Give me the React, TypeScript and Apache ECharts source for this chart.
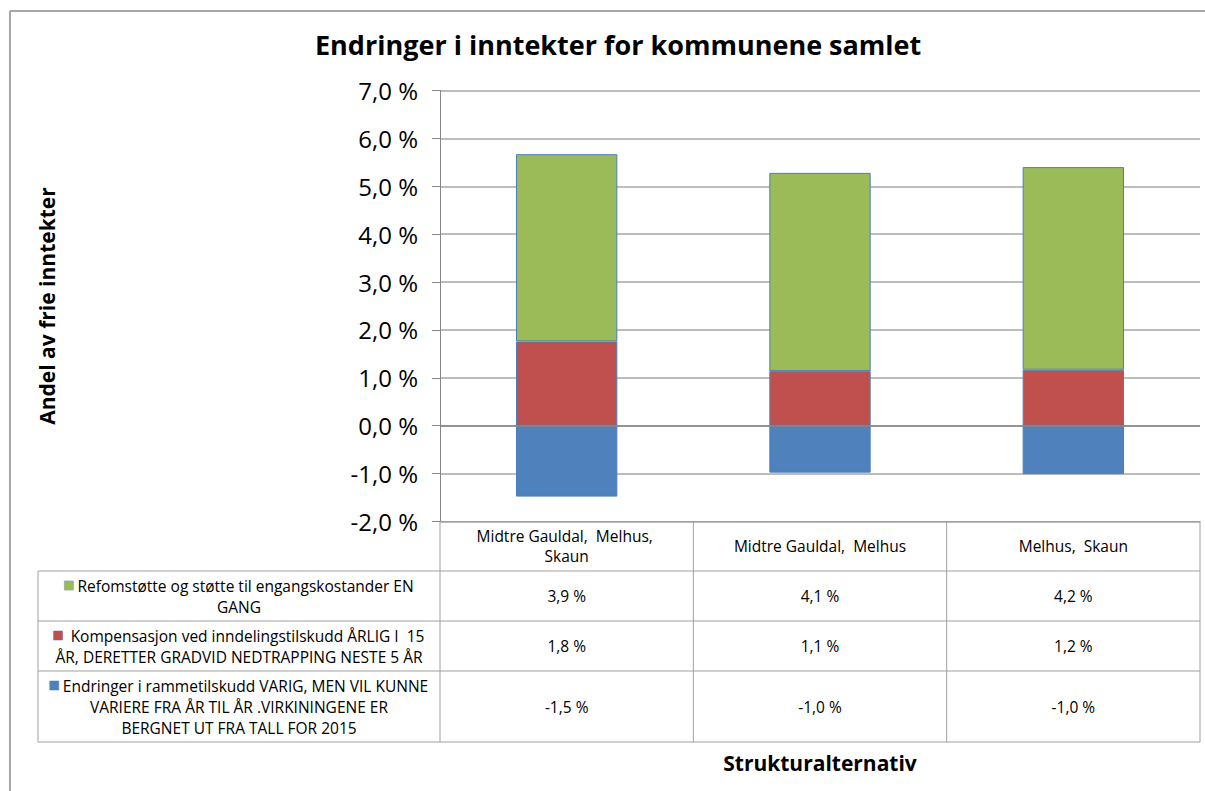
import React, { useEffect, useRef } from "react";
import * as echarts from "echarts";

const categories = ["Midtre Gauldal,  Melhus, Skaun", "Midtre Gauldal,  Melhus", "Melhus,  Skaun"];
const seriesNames = [
  "Endringer i rammetilskudd VARIG, MEN VIL KUNNE VARIERE FRA ÅR TIL ÅR .VIRKININGENE ER BERGNET UT FRA TALL FOR 2015",
  "Kompensasjon ved inndelingstilskudd ÅRLIG I  15 ÅR, DERETTER GRADVID NEDTRAPPING NESTE 5 ÅR",
  "Refomstøtte og støtte til engangskostander EN GANG",
];
// legend text lines as shown in the data table
const legendLines = [
  ["Endringer i rammetilskudd VARIG, MEN VIL KUNNE", "VARIERE FRA ÅR TIL ÅR .VIRKININGENE ER", "BERGNET UT FRA TALL FOR 2015"],
  [" Kompensasjon ved inndelingstilskudd ÅRLIG I  15", "ÅR, DERETTER GRADVID NEDTRAPPING NESTE 5 ÅR"],
  ["Refomstøtte og støtte til engangskostander EN", "GANG"],
];
const rammetilskudd = [-1.48, -0.98, -1.01];
const inndelingstilskudd = [1.76, 1.14, 1.17];
const reformstotte = [3.91, 4.14, 4.23];
const yTicks = { min: -2, max: 7, interval: 1 };
const colors = ["#4F81BD", "#C0504D", "#9BBB59"];

const fmt = (v: number) => v.toFixed(1).replace(".", ",") + " %";

export default function App() {
  const ref = useRef<HTMLDivElement>(null);
  useEffect(() => {
    if (!ref.current) return;
    const chart = echarts.init(ref.current, undefined, { renderer: "svg" });
    const W = 1205;
    const H = 791;
    const gridLeft = 440;
    const gridRight = 1200;
    const gridTop = 90.5;
    const axisBottom = 521.5;
    const colW = (gridRight - gridLeft) / categories.length;
    const tableLeft = 38;
    const rowY = [571, 621, 671, 742];
    const lineColor = "#A0A0A0";
    const font = "'Open Sans', sans-serif";
    const tableFont = 15.5;
    const allData = [rammetilskudd, inndelingstilskudd, reformstotte];

    const graphics: any[] = [];
    // outer frame
    graphics.push({ type: "line", shape: { x1: 10, y1: 11, x2: W, y2: 11 }, style: { stroke: "#A6A6A6", lineWidth: 2 }, silent: true });
    graphics.push({ type: "line", shape: { x1: 10, y1: 11, x2: 10, y2: H }, style: { stroke: "#A6A6A6", lineWidth: 2 }, silent: true });
    // table horizontal lines
    rowY.forEach((y) => {
      graphics.push({ type: "line", shape: { x1: tableLeft, y1: y, x2: gridRight, y2: y }, style: { stroke: lineColor, lineWidth: 1 }, silent: true });
    });
    // vertical lines
    graphics.push({ type: "line", shape: { x1: tableLeft, y1: rowY[0], x2: tableLeft, y2: rowY[3] }, style: { stroke: lineColor, lineWidth: 1 }, silent: true });
    for (let i = 0; i <= categories.length; i++) {
      const x = gridLeft + i * colW;
      graphics.push({ type: "line", shape: { x1: x, y1: axisBottom, x2: x, y2: rowY[3] }, style: { stroke: lineColor, lineWidth: 1 }, silent: true });
    }
    // legend cells (table rows: green, red, blue from top)
    const rowOrder = [2, 1, 0];
    rowOrder.forEach((si, r) => {
      const top = rowY[r];
      const bottom = rowY[r + 1];
      const lines = legendLines[si];
      const text = "{m|} " + lines.join("\n");
      graphics.push({
        type: "text",
        x: (tableLeft + gridLeft) / 2,
        y: (top + bottom) / 2,
        silent: true,
        style: {
          text,
          fill: "#000",
          fontSize: tableFont,
          fontFamily: font,
          align: "center",
          verticalAlign: "middle",
          lineHeight: 21,
          rich: {
            m: { width: 9, height: 9, backgroundColor: colors[si], borderColor: "#9DB6D8", borderWidth: 0.5 },
          },
        },
      });
      allData[si].forEach((v, c) => {
        graphics.push({
          type: "text",
          x: gridLeft + (c + 0.5) * colW,
          y: (top + bottom) / 2,
          silent: true,
          style: { text: fmt(v), fill: "#000", fontSize: tableFont, fontFamily: font, align: "center", verticalAlign: "middle" },
        });
      });
    });

    chart.setOption({
      animation: false,
      backgroundColor: "#ffffff",
      title: {
        text: "Endringer i inntekter for kommunene samlet",
        left: 310,
        top: 26,
        textStyle: { fontFamily: font, fontSize: 27, fontWeight: "bold", color: "#000" },
      },
      grid: { left: gridLeft, right: W - gridRight, top: gridTop, bottom: H - axisBottom, containLabel: false },
      xAxis: {
        type: "category",
        data: categories,
        name: "Strukturalternativ",
        nameLocation: "middle",
        nameGap: 231,
        nameTextStyle: { fontFamily: font, fontSize: 21, fontWeight: "bold", color: "#000" },
        axisLine: { onZero: false, lineStyle: { color: lineColor, width: 1 } },
        axisTick: { show: false },
        axisLabel: {
          interval: 0,
          margin: 24,
          verticalAlign: "middle",
          width: 200,
          overflow: "break",
          lineHeight: 20,
          fontFamily: font,
          fontSize: tableFont,
          color: "#000",
        },
      },
      yAxis: {
        type: "value",
        min: yTicks.min,
        max: yTicks.max,
        interval: yTicks.interval,
        name: "Andel av frie inntekter",
        nameLocation: "middle",
        nameGap: 383,
        nameRotate: 90,
        nameTextStyle: { fontFamily: font, fontSize: 21, fontWeight: "bold", color: "#000" },
        axisLine: { show: true, lineStyle: { color: "#868686", width: 1 } },
        axisTick: { show: true, length: 8, lineStyle: { color: "#868686" } },
        axisLabel: { formatter: (v: number) => fmt(v), fontFamily: font, fontSize: 24, color: "#000", margin: 22 },
        splitLine: { show: true, lineStyle: { color: "#A6A6A6", width: 1.5 } },
      },
      graphic: graphics,
      series: allData.map((d, i) => ({
        name: seriesNames[i],
        type: "bar",
        stack: "total",
        data: d,
        barCategoryGap: "60%",
        itemStyle: { color: colors[i], borderColor: "#4A7EBB", borderWidth: 1 },
        markLine:
          i === 0
            ? {
                silent: true,
                symbol: "none",
                label: { show: false },
                lineStyle: { color: "#868686", width: 1.5, type: "solid" },
                data: [{ yAxis: 0 }],
              }
            : undefined,
      })),
    });
    return () => chart.dispose();
  }, []);
  return <div ref={ref} style={{ width: 1205, height: 791, position: "absolute", left: 0, top: 0 }} />;
}
